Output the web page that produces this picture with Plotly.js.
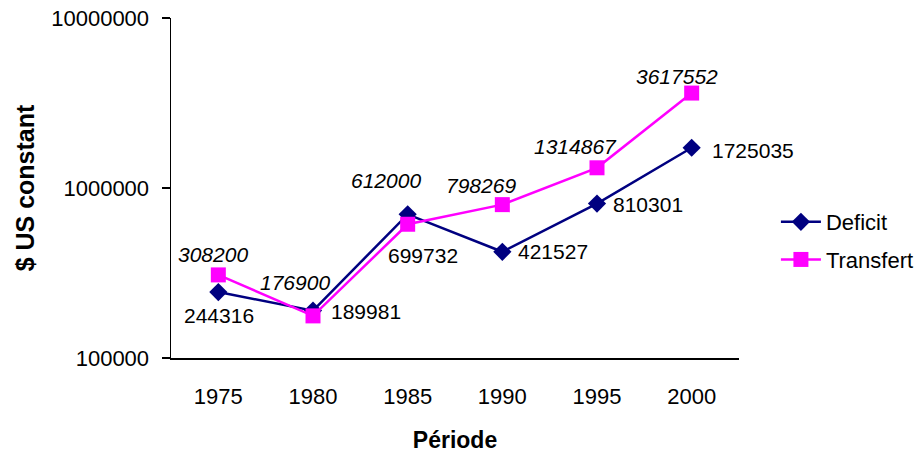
<!DOCTYPE html>
<html><head><meta charset="utf-8">
<script src="https://cdn.plot.ly/plotly-3.0.1.min.js"></script>
<style>html,body{margin:0;padding:0;background:#fff}#c{width:922px;height:454px}</style>
</head><body><div id="c"></div>
<script>
const periods = ['1975','1980','1985','1990','1995','2000'];
const deficit = [244316, 189981, 699732, 421527, 810301, 1725035];
const transfert = [308200, 176900, 612000, 798269, 1314867, 3617552];
const yTickVals = [100000, 1000000, 10000000];
const yTickText = ['100000', '1000000', '10000000'];

const FONT = 'Liberation Sans, Arial, sans-serif';
const NAVY = '#000080', MAG = '#FF00FF';

// label offsets (pixels) for data labels
const defShift = [[1,-23],[16,-1],[-22,-41],[14,0],[14,-1],[18,-3]];
const defAnchor = ['center','left','left','left','left','left'];
const trShift = [[-5,20],[-18,33],[-22,44],[-21,19],[-22,21],[-15,17]];

const annotations = [];
periods.forEach((p,i)=>{
  annotations.push({x:i, y:Math.log10(deficit[i]), xref:'x', yref:'y', text:String(deficit[i]),
    showarrow:false, xanchor:defAnchor[i], yanchor:'middle', xshift:defShift[i][0], yshift:defShift[i][1],
    font:{family:FONT, size:21, color:'#000'}});
  annotations.push({x:i, y:Math.log10(transfert[i]), xref:'x', yref:'y', text:'<i>'+transfert[i]+'</i>',
    showarrow:false, xanchor:'center', yanchor:'middle', xshift:trShift[i][0], yshift:trShift[i][1],
    font:{family:FONT, size:21, color:'#000'}});
});

const data = [
  {x:periods, y:deficit, name:'Deficit', type:'scatter', mode:'lines+markers', legendgroup:'a',
   line:{color:NAVY, width:2.5}, marker:{symbol:'diamond', size:14, color:NAVY}},
  {x:periods, y:transfert, name:'Transfert', type:'scatter', mode:'lines+markers', legendgroup:'b',
   line:{color:MAG, width:2.5}, marker:{symbol:'square', size:15, color:MAG}}
];

const layout = {
  width:922, height:454,
  margin:{l:171, r:183, t:18, b:96, autoexpand:false},
  paper_bgcolor:'#fff', plot_bgcolor:'#fff',
  font:{family:FONT, size:22, color:'#000'},
  showlegend:true,
  legend:{x:1.065, y:0.344, xanchor:'left', yanchor:'middle', font:{family:FONT, size:22, color:'#000'},
    tracegroupgap:6, itemwidth:40},
  xaxis:{type:'category', range:[-0.5,5.5], showline:true, linecolor:'#000', linewidth:1.5,
    ticks:'', showgrid:false, zeroline:false, ticklabelstandoff:18, automargin:false,
    tickfont:{family:FONT, size:22},
    title:{text:'<b>Période</b>', font:{family:FONT, size:23}, standoff:24}},
  yaxis:{type:'log', range:[5,7], showline:true, linecolor:'#000', linewidth:1.5, automargin:false,
    ticks:'outside', ticklen:8, tickcolor:'#000', tickwidth:1.5, showgrid:false, zeroline:false,
    tickvals:yTickVals, ticktext:yTickText, ticklabelstandoff:8,
    tickfont:{family:FONT, size:22},
    title:{text:'<b>$ US constant</b>', font:{family:FONT, size:25}, standoff:9}},
  annotations:annotations
};

Plotly.newPlot('c', data, layout, {displayModeBar:false, staticPlot:true});
</script></body></html>
